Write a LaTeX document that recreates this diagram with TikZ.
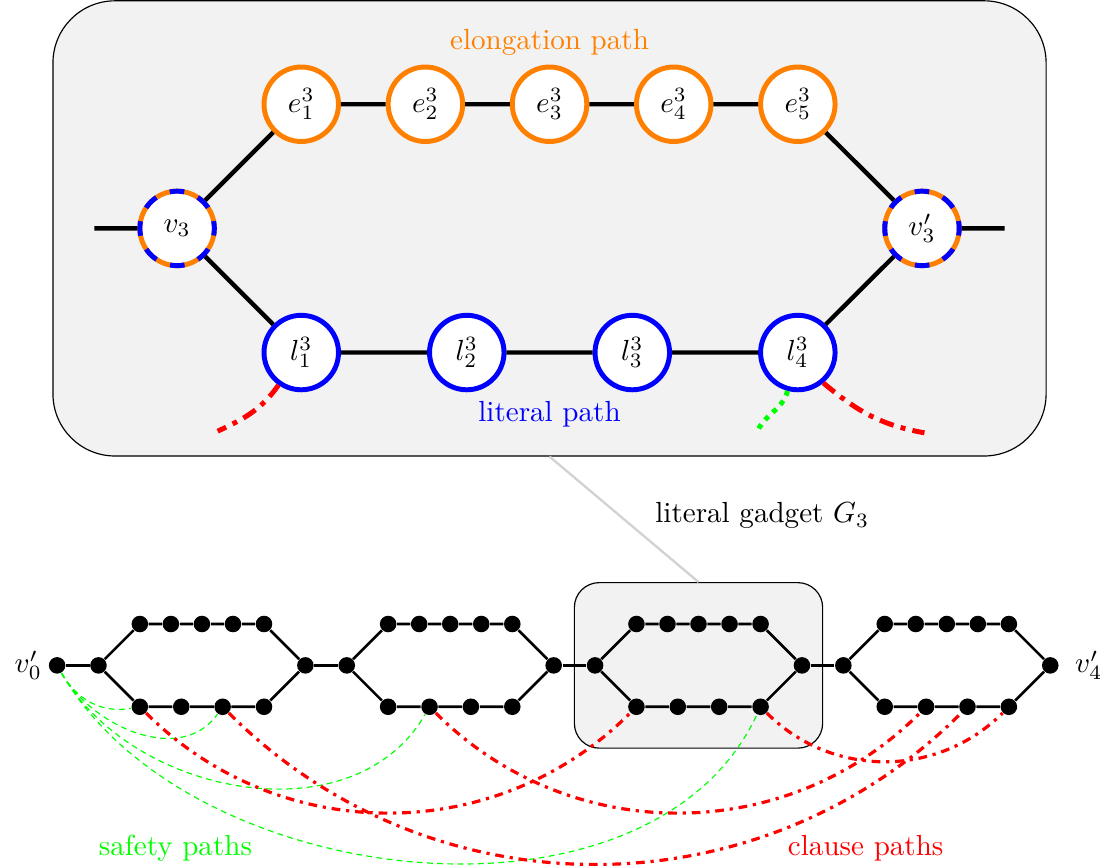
\documentclass[tikz,border=0pt]{standalone}
\usepackage{amsmath}
\usepackage{tikz}
\usetikzlibrary{positioning, calc}

\begin{document}
\begin{tikzpicture}[
        vtx/.style={circle, draw=#1, line width=1.7pt, fill=white, minimum size=0.9cm, inner sep=0pt},
        mixvtx/.style={vtx=orange, postaction={draw=blue, line width=1.7pt, dash pattern=on 5.03pt off 5.03pt, dash phase=2.5pt}},
        smalldot/.style={circle, fill=black, minimum size=0.2cm, inner sep=0pt},
        boldedge/.style={line width=1.5pt},
        thinedge/.style={line width=0.9pt},
        clause/.style={red, line width=1.1pt, dash dot},
        bigclause/.style={red, line width=1.7pt, dash pattern=on 5pt off 2.5pt on 1.7pt off 2.5pt},
        safety/.style={green, thin, dash pattern=on 2pt off 1.5pt},
        gadgetbox/.style={draw, thin, fill=gray!10, inner sep=0pt}
    ]
        \useasboundingbox (-0.69,-2.42) rectangle (12.71,8.04);

        \node[gadgetbox, rounded corners=0.75cm, minimum width=12cm, minimum height=5.5cm] (bigbox) at (5.95,5.28) {};
        \node[gadgetbox, rounded corners=0.3cm, minimum width=3cm, minimum height=2cm] (smallbox) at (7.75,0) {};
        \draw[gray!35, line width=0.8pt] (bigbox.south) -- (smallbox.north);

        \begin{scope}[shift={(1.45,5.28)}]
            \node[mixvtx] (v3) at (0,0) {$v_3$};
            \node[mixvtx] (v3p) at (9,0) {$v'_3$};
            \foreach \i in {1,...,5}
                \node[vtx=orange] (e\i) at (1.5*\i,1.5) {$e^3_{\i}$};
            \foreach \i in {1,...,4}
                \node[vtx=blue] (l\i) at (2*\i-0.5,-1.5) {$l^3_{\i}$};
        \end{scope}

        \coordinate (vin) at ($(v3)+(-1,0)$);
        \coordinate (vout) at ($(v3p)+(1,0)$);
        \coordinate (cl1) at ($(l1)+(-1.01,-0.95)$);
        \coordinate (sf4) at ($(l4)+(-0.5,-0.98)$);
        \coordinate (cl4) at ($(l4)+(1.53,-0.97)$);

        \draw[boldedge] (vin) -- (v3) -- (e1) -- (e2) -- (e3) -- (e4) -- (e5) -- (v3p) -- (vout);
        \draw[boldedge] (v3) -- (l1) -- (l2) -- (l3) -- (l4) -- (v3p);
        \draw[bigclause] (l1.-125) to[out=-125, in=25] (cl1);
        \draw[green, line width=1.7pt, dotted] (l4.-105) to[out=-105, in=70] (sf4);
        \draw[bigclause] (l4.-50) to[out=-40, in=170] (cl4);

        \node[text=orange] (elong) at ($(e3)+(0,0.75)$) {elongation path};
        \node[text=blue] (litpath) at ($(l2)!0.5!(l3)+(0,-0.74)$) {literal path};
        \node (gadgetlabel) at (8.52,1.81) {literal gadget $G_3$};

        \node[smalldot, label={[inner sep=2pt]left:$v'_0$}] (v0) at (0,0) {};
        \foreach \g in {1,...,4} {
            \begin{scope}[shift={(3*\g-2.5,0)}]
                \node[smalldot] (a\g) at (0,0) {};
                \foreach \i in {1,...,5}
                    \node[smalldot] (t\g\i) at (0.125+0.375*\i,0.5) {};
                \foreach \i in {1,...,4}
                    \node[smalldot] (b\g\i) at (0.5*\i,-0.5) {};
                \node[smalldot] (z\g) at (2.5,0) {};
            \end{scope}
            \draw[thinedge] (a\g) -- (t\g1) -- (t\g2) -- (t\g3) -- (t\g4) -- (t\g5) -- (z\g);
            \draw[thinedge] (a\g) -- (b\g1) -- (b\g2) -- (b\g3) -- (b\g4) -- (z\g);
        }
        \node[right=2pt of z4] (v4label) {$v'_4$};
        \draw[thinedge] (v0) -- (a1);
        \draw[thinedge] (z1) -- (a2);
        \draw[thinedge] (z2) -- (a3);
        \draw[thinedge] (z3) -- (a4);

        \draw[safety] (v0) to[out=-60, in=-170] (b11);
        \draw[safety] (v0) to[out=-60, in=-125] (b13);
        \draw[safety] (v0) to[out=-60, in=-120] (b22);
        \draw[safety] (v0) to[out=-60, in=-115, looseness=0.93] (b34);
        \draw[clause] (b11) to[out=-45, in=-135] (b31);
        \draw[clause] (b13) to[out=-45, in=-135] (b43);
        \draw[clause] (b22) to[out=-45, in=-135] (b42);
        \draw[clause] (b34) to[out=-45, in=-135] (b44);

        \node[text=green] (safelabel) at (1.43,-2.21) {safety paths};
        \node[text=red] (clauselabel) at (9.77,-2.21) {clause paths};
    \end{tikzpicture}
\end{document}
